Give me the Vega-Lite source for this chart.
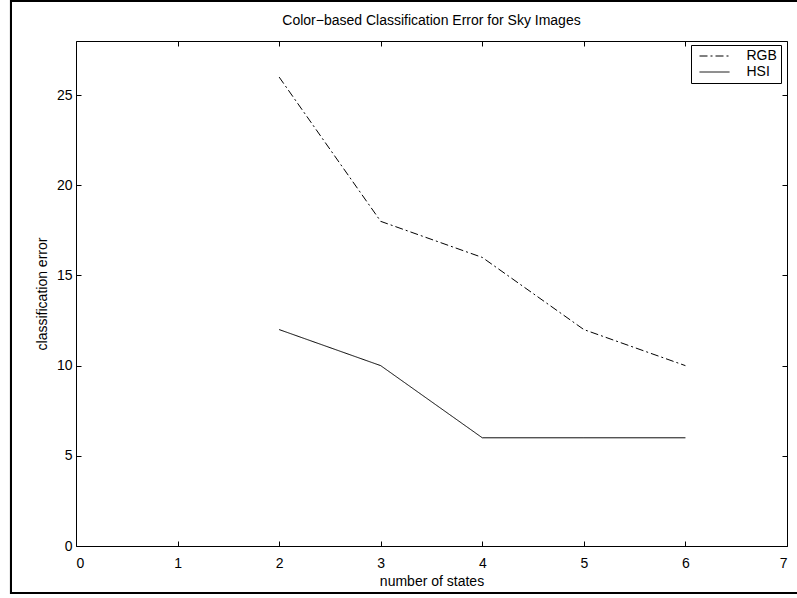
{
  "$schema": "https://vega.github.io/schema/vega-lite/v6.json",
  "width": 711,
  "height": 505,
  "autosize": "none",
  "padding": {"left": 76, "top": 41, "right": 10, "bottom": 52},
  "background": "white",
  "config": {
    "view": {"stroke": "black", "strokeWidth": 1},
    "font": "Liberation Sans",
    "axis": {
      "labelFont": "Liberation Sans",
      "labelFontSize": 14,
      "labelColor": "black",
      "titleFont": "Liberation Sans",
      "titleFontSize": 14,
      "titleFontWeight": "normal",
      "titleColor": "black",
      "tickColor": "black",
      "domainColor": "black",
      "grid": false,
      "tickSize": -5,
      "labelPadding": 9
    }
  },
  "title": {
    "text": "Color−based Classification Error for Sky Images",
    "font": "Liberation Sans",
    "fontSize": 14,
    "fontWeight": "normal",
    "color": "black",
    "anchor": "middle",
    "offset": -28
  },
  "data": {
    "values": [
      {"states": 2, "error": 26, "method": "RGB"},
      {"states": 3, "error": 18, "method": "RGB"},
      {"states": 4, "error": 16, "method": "RGB"},
      {"states": 5, "error": 12, "method": "RGB"},
      {"states": 6, "error": 10, "method": "RGB"},
      {"states": 2, "error": 12, "method": "HSI"},
      {"states": 3, "error": 10, "method": "HSI"},
      {"states": 4, "error": 6, "method": "HSI"},
      {"states": 5, "error": 6, "method": "HSI"},
      {"states": 6, "error": 6, "method": "HSI"}
    ]
  },
  "layer": [
    {
      "mark": {"type": "rect", "filled": false, "stroke": "black", "strokeWidth": 2, "clip": false},
      "encoding": {
        "x": {"datum": -0.64, "type": "quantitative", "scale": {"domain": [0, 7], "nice": false}, "axis": null},
        "x2": {"datum": 7.3},
        "y": {"datum": 30.22, "type": "quantitative", "scale": {"domain": [0, 28], "nice": false}, "axis": null},
        "y2": {"datum": -2.606}
      }
    },
    {
      "mark": {"type": "line", "strokeWidth": 1, "color": "black"},
      "encoding": {
        "x": {
          "field": "states", "type": "quantitative",
          "scale": {"domain": [0, 7], "nice": false},
          "axis": {"orient": "bottom", "values": [0,1,2,3,4,5,6,7], "title": "number of states", "titlePadding": 4, "labelPadding": 15, "domain": false}
        },
        "y": {
          "field": "error", "type": "quantitative",
          "scale": {"domain": [0, 28], "nice": false},
          "axis": {"orient": "left", "values": [0,5,10,15,20,25], "title": "classification error", "titlePadding": 7, "domain": false}
        },
        "strokeDash": {
          "field": "method", "type": "nominal",
          "scale": {"domain": ["RGB", "HSI"], "range": [[8, 3, 2, 3], [1, 0]]},
          "legend": {
            "orient": "none",
            "legendX": 615,
            "legendY": 4,
            "title": null,
            "strokeColor": "black",
            "fillColor": "white",
            "padding": 4,
            "cornerRadius": 0,
            "symbolType": "M-3,0H3",
            "symbolSize": 100,
            "symbolOffset": 12.5,
            "symbolStrokeColor": "black",
            "symbolStrokeWidth": 1,
            "labelFont": "Liberation Sans",
            "labelFontSize": 14,
            "labelColor": "black",
            "labelOffset": 25,
            "rowPadding": 2
          }
        }
      }
    },
    {
      "mark": {"type": "point", "opacity": 0},
      "encoding": {
        "x": {
          "field": "states", "type": "quantitative",
          "scale": {"domain": [0, 7], "nice": false},
          "axis": {"orient": "top", "values": [0,1,2,3,4,5,6,7], "labels": false, "title": null, "domain": false}
        },
        "y": {
          "field": "error", "type": "quantitative",
          "scale": {"domain": [0, 28], "nice": false},
          "axis": {"orient": "right", "values": [0,5,10,15,20,25], "labels": false, "title": null, "domain": false}
        }
      }
    }
  ],
  "resolve": {"axis": {"x": "independent", "y": "independent"}}
}
